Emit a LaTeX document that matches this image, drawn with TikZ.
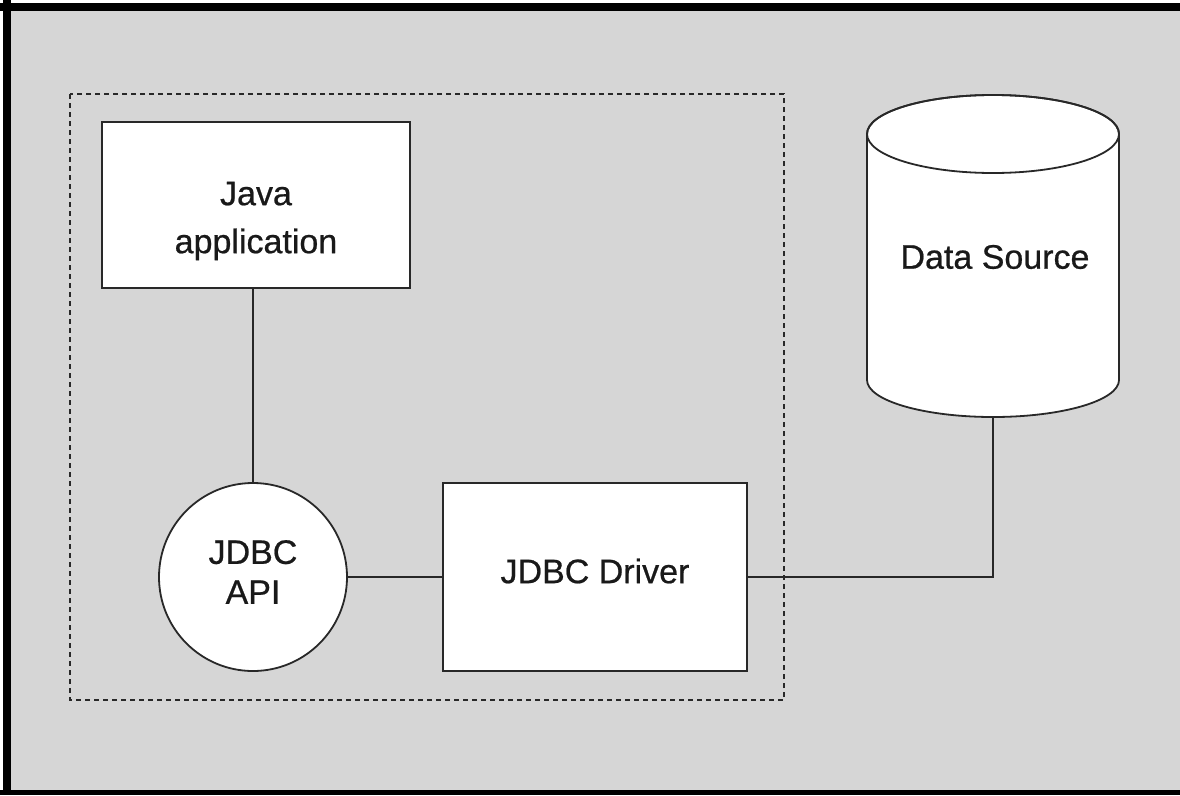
\documentclass[tikz,border=0pt]{standalone}
\usepackage{fontspec}
\setmainfont{Liberation Sans}
\newfontfamily\labelfont{Liberation Sans}[FakeBold=0.6, BoldFont={Liberation Sans}, BoldFeatures={FakeBold=0.6}]
\definecolor{paper}{RGB}{214,214,214}
\definecolor{ink}{RGB}{40,40,40}
\tikzset{
  outline/.style={draw=ink, line width=1.8pt, fill=white},
  label/.style={font=\labelfont\bfseries\fontsize{34}{48}\selectfont, text=black!90, align=center, inner sep=0pt},
  link/.style={draw=ink, line width=1.6pt},
  group/.style={draw=ink, line width=1.8pt, dash pattern=on 5pt off 4pt},
}
\begin{document}
\begin{tikzpicture}[x=1pt, y=-1pt]
  \useasboundingbox (0,0) rectangle (1180,795);
  % paper and frame
  \fill[white] (0,0) rectangle (1180,795);
  \fill[paper] (11,11) rectangle (1180,790);
  \draw[black, line width=8pt] (7,0) -- (7,795);
  \draw[black, line width=8pt] (0,7) -- (1180,7);
  \draw[black, line width=5pt] (0,792.5) -- (1180,792.5);

  % dashed grouping
  \draw[group] (70,94) rectangle (784,700);

  % Java application box
  \node[outline, minimum width=308pt, minimum height=166pt, inner sep=0pt]
    (java) at (256,205) {};
  \node[label] (javatext) at (256,221) {Java\\application};

  % JDBC API circle
  \node[outline, circle, minimum size=188pt, inner sep=0pt]
    (api) at (253,577) {};
  \node[label, font=\labelfont\bfseries\fontsize{34}{40}\selectfont] (apitext) at (253,572) {JDBC\\API};

  % JDBC Driver box
  \node[outline, minimum width=304pt, minimum height=188pt, inner sep=0pt]
    (driver) at (595,577) {};
  \node[label] (drivertext) at (595,571) {JDBC Driver};

  % Data source cylinder
  \filldraw[outline]
    (867,134) -- (867,380)
    arc[start angle=180, end angle=360, x radius=126pt, y radius=37pt]
    -- (1119,134)
    arc[start angle=0, end angle=180, x radius=126pt, y radius=39pt]
    -- cycle;
  \draw[draw=ink, line width=1.8pt] (993,134) ellipse [x radius=126pt, y radius=39pt];
  \coordinate (dsbot) at (993,417);
  \node[label] (ds) at (995,257) {Data Source};

  % connectors
  \draw[link] (java.south -| api.north) -- (api.north);
  \draw[link] (api.east) -- (driver.west);
  \draw[link] (driver.east) -| (dsbot);
\end{tikzpicture}
\end{document}
